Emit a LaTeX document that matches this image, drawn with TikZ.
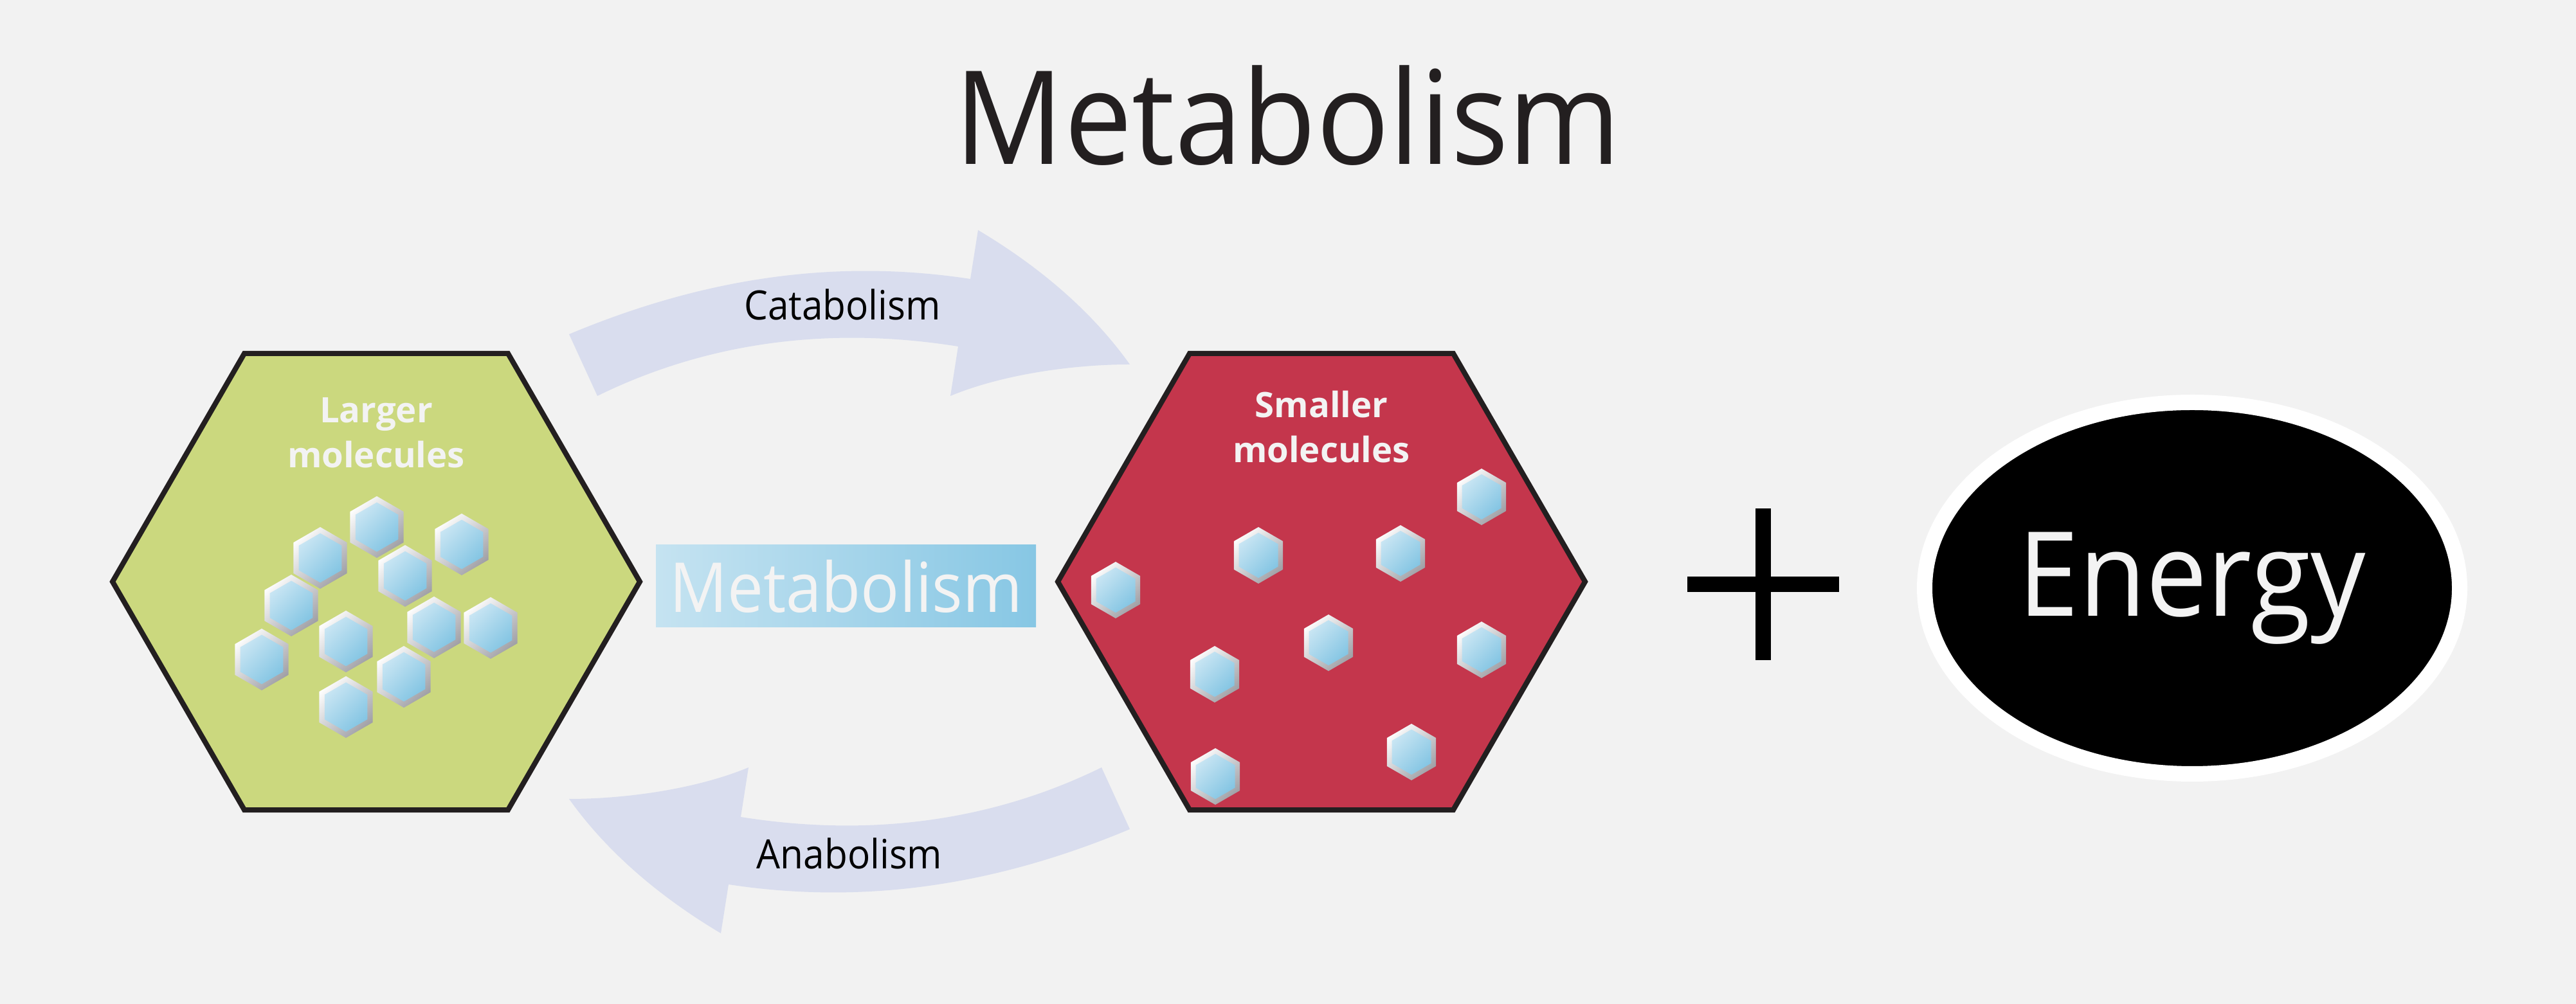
\documentclass[tikz,border=0pt]{standalone}
\usepackage{fontspec}
\setmainfont{Open Sans}
\newfontfamily\narrowsans{Open Sans}[FakeStretch=0.93]
\usepackage{tikz}
\usetikzlibrary{shapes.geometric}
\definecolor{mlbg}{RGB}{242,242,242}
\definecolor{mlgreen}{RGB}{203,216,126}
\definecolor{mlred}{RGB}{196,54,76}
\definecolor{mledge}{RGB}{35,31,32}
\definecolor{mlarrow}{RGB}{217,221,238}
\definecolor{mlbluelt}{RGB}{200,229,243}
\definecolor{mlbluedk}{RGB}{132,197,227}
\definecolor{mlboxlt}{RGB}{197,227,241}
\definecolor{mlboxdk}{RGB}{135,199,228}
\definecolor{mlsilverlt}{RGB}{252,252,252}
\definecolor{mlsilverdk}{RGB}{160,160,166}
\definecolor{mlwhite}{RGB}{243,243,243}

\begin{document}
\begin{tikzpicture}[
  bighex/.style={regular polygon, regular polygon sides=6, minimum size=8.2cm,
    inner sep=0pt, draw=mledge, line width=2.3pt},
  hexrim/.style={regular polygon, regular polygon sides=6, shape border rotate=30,
    inner sep=0pt, top color=mlsilverlt, bottom color=mlsilverdk, shading angle=45},
  hexcore/.style={regular polygon, regular polygon sides=6, shape border rotate=30,
    inner sep=0pt, top color=mlbluelt, bottom color=mlbluedk, shading angle=45},
  mollabel/.style={font=\fontsize{15.5}{20}\selectfont\bfseries, text=mlwhite,
    align=center, anchor=base},
  arrowlabel/.style={font=\narrowsans\fontsize{17.9}{20}\selectfont, anchor=base},
  pics/mol/.style={code={
    \node[hexrim, minimum size=#1] (-rim) {};
    \node[hexcore, minimum size=0.8*#1] (-core) {};
  }}
]
\useasboundingbox (0,0) rectangle (40.06,15.62);
\fill[mlbg] (0,0) rectangle (40.06,15.62);

% Title
\node[font=\narrowsans\fontsize{57.6}{60}\selectfont, text=mledge, anchor=base]
  (title) at (20.03,13.06) {Metabolism};

% Curved arrows (the lower one is the upper one turned round)
\foreach \ang in {0,180} {
  \fill[mlarrow, rotate around={\ang:(13.21,6.57)}]
    (8.85,10.42) .. controls (10.95,11.30) and (12.99,11.60) .. (15.09,11.28)
    -- (15.21,12.04) .. controls (16.20,11.45) and (17.00,10.75) .. (17.57,9.95)
    .. controls (16.70,9.95) and (15.60,9.80) .. (14.78,9.46)
    -- (14.90,10.23) .. controls (12.90,10.55) and (11.00,10.30) .. (9.29,9.46)
    -- cycle;
}
\node[arrowlabel] (catlabel) at (13.10,10.64) {Catabolism};
\node[arrowlabel] (analabel) at (13.21,2.10) {Anabolism};

% Left hexagon
\node[bighex, fill=mlgreen] (lhex) at (5.85,6.57) {};
\node[mollabel] (llabel) at (5.85,8.34) {Larger\\molecules};
\foreach \x/\y [count=\i] in {5.86/7.42, 4.98/6.94, 7.18/7.15, 6.30/6.66,
    4.53/6.20, 6.75/5.86, 7.63/5.85, 5.38/5.64, 4.07/5.36, 6.28/5.09, 5.38/4.62}
  \pic (lm\i) at (\x,\y) {mol=0.96cm};

% Right hexagon
\node[bighex, fill=mlred] (rhex) at (20.55,6.57) {};
\node[mollabel] (rlabel) at (20.55,8.42) {Smaller\\molecules};
\foreach \x/\y [count=\i] in {23.04/7.89, 19.57/6.98, 21.78/7.01, 17.35/6.44,
    20.66/5.62, 23.04/5.51, 18.89/5.13, 21.95/3.92, 18.90/3.54}
  \pic (rm\i) at (\x,\y) {mol=0.88cm};

% Middle label
\node[minimum width=5.91cm, minimum height=1.28cm, inner sep=0pt,
      left color=mlboxlt, right color=mlboxdk, text=mlwhite,
      font=\narrowsans\fontsize{30.5}{32}\selectfont]
  (metabox) at (13.155,6.50) {Metabolism};

% Plus
\draw[line width=0.24cm] (26.24,6.53) -- (28.60,6.53);
\draw[line width=0.24cm] (27.42,5.35) -- (27.42,7.71);

% Energy
\node[ellipse, fill=black, draw=white, line width=0.24cm, inner sep=0pt,
      minimum width=8.32cm, minimum height=5.78cm, text=mlwhite,
      font=\narrowsans\fontsize{52}{56}\selectfont]
  (energy) at (34.09,6.47) {Energy};
\end{tikzpicture}
\end{document}
